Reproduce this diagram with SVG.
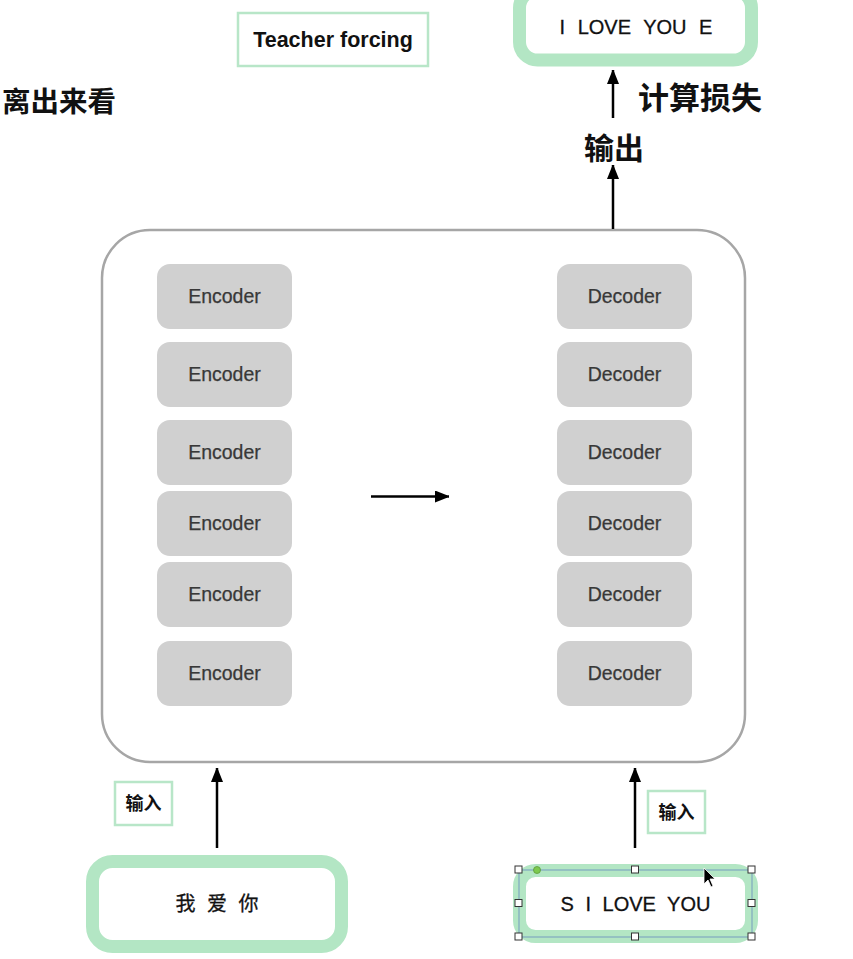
<svg xmlns="http://www.w3.org/2000/svg" width="853" height="959" viewBox="0 0 853 959">
<defs>
<style>
.blk{fill:#d0d0d0;}
.blkt{font-family:"Liberation Sans",Arial,sans-serif;font-size:19.5px;fill:#383838;text-anchor:middle;stroke:#383838;stroke-width:0.25;}
.io{fill:#fff;stroke:#b3e6c4;stroke-width:13;}
.iot{font-family:"Liberation Sans","Noto Sans CJK SC",sans-serif;font-size:20px;fill:#111;text-anchor:middle;stroke:#111;stroke-width:0.3;}
.lbl{fill:#fff;stroke:#b8e6c8;stroke-width:2.5;}
.cn{font-family:"Liberation Sans","Noto Sans CJK SC",sans-serif;font-weight:bold;fill:#111;}
.ln{stroke:#000;stroke-width:2.5;fill:none;}
.h{fill:#fff;stroke:#333;stroke-width:1;}
</style>
<marker id="ah" markerWidth="12" markerHeight="15" viewBox="0 0 12 15" refX="14" refY="6" orient="auto" markerUnits="userSpaceOnUse">
<path d="M0,0 L15,6 L0,12 z" fill="#000"/>
</marker>
</defs>
<rect width="853" height="959" fill="#fff"/>

<g id="side-text">
<text class="cn" x="2" y="112" font-size="28.5">离出来看</text>
</g>

<g id="teacher-forcing">
<rect class="lbl" x="238" y="13" width="190" height="53"/>
<text class="cn" x="333" y="47" font-size="21.5" text-anchor="middle">Teacher forcing</text>
</g>

<g id="target-output">
<rect class="io" x="519.5" y="-10" width="232" height="70" rx="18"/>
<text class="iot" x="636" y="34" word-spacing="7">I LOVE YOU E</text>
</g>

<g id="label-loss">
<text class="cn" x="638" y="109" font-size="31">计算损失</text>
</g>
<g id="label-output">
<text class="cn" x="614" y="159" font-size="30" text-anchor="middle">输出</text>
</g>

<g id="container">
<rect x="102" y="230" width="643" height="532" rx="48" fill="#fff" stroke="#a6a6a6" stroke-width="2.5"/>
</g>

<g id="encoders">
<g id="enc1"><rect class="blk" x="157" y="264" width="135" height="65" rx="13"/><text class="blkt" x="224.5" y="303">Encoder</text></g>
<g id="enc2"><rect class="blk" x="157" y="342" width="135" height="65" rx="13"/><text class="blkt" x="224.5" y="381">Encoder</text></g>
<g id="enc3"><rect class="blk" x="157" y="420" width="135" height="65" rx="13"/><text class="blkt" x="224.5" y="459">Encoder</text></g>
<g id="enc4"><rect class="blk" x="157" y="491" width="135" height="65" rx="13"/><text class="blkt" x="224.5" y="530">Encoder</text></g>
<g id="enc5"><rect class="blk" x="157" y="562" width="135" height="65" rx="13"/><text class="blkt" x="224.5" y="601">Encoder</text></g>
<g id="enc6"><rect class="blk" x="157" y="641" width="135" height="65" rx="13"/><text class="blkt" x="224.5" y="680">Encoder</text></g>
</g>

<g id="decoders">
<g id="dec1"><rect class="blk" x="557" y="264" width="135" height="65" rx="13"/><text class="blkt" x="624.5" y="303">Decoder</text></g>
<g id="dec2"><rect class="blk" x="557" y="342" width="135" height="65" rx="13"/><text class="blkt" x="624.5" y="381">Decoder</text></g>
<g id="dec3"><rect class="blk" x="557" y="420" width="135" height="65" rx="13"/><text class="blkt" x="624.5" y="459">Decoder</text></g>
<g id="dec4"><rect class="blk" x="557" y="491" width="135" height="65" rx="13"/><text class="blkt" x="624.5" y="530">Decoder</text></g>
<g id="dec5"><rect class="blk" x="557" y="562" width="135" height="65" rx="13"/><text class="blkt" x="624.5" y="601">Decoder</text></g>
<g id="dec6"><rect class="blk" x="557" y="641" width="135" height="65" rx="13"/><text class="blkt" x="624.5" y="680">Decoder</text></g>
</g>

<g id="label-input-left">
<rect class="lbl" x="115" y="782" width="57" height="43"/>
<text class="cn" x="143.5" y="810" font-size="18" text-anchor="middle">输入</text>
</g>
<g id="label-input-right">
<rect class="lbl" x="648" y="791" width="57" height="42"/>
<text class="cn" x="676.5" y="819" font-size="18" text-anchor="middle">输入</text>
</g>

<g id="source-input">
<rect class="io" x="92.5" y="861.5" width="249" height="85" rx="20"/>
<text class="iot" x="217" y="911" word-spacing="6">我 爱 你</text>
</g>

<g id="decoder-input">
<rect class="io" x="519.5" y="870.5" width="232" height="66" rx="16"/>
<text class="iot" x="635.5" y="911" font-size="21" word-spacing="6">S I LOVE YOU</text>
<rect x="519" y="870" width="233" height="67" fill="none" stroke="#7fa8c0" stroke-width="1.2"/>
<rect class="h" x="515" y="866" width="7" height="7"/>
<rect class="h" x="631.5" y="866" width="7" height="7"/>
<rect class="h" x="748" y="866" width="7" height="7"/>
<rect class="h" x="515" y="899.5" width="7" height="7"/>
<rect class="h" x="748" y="899.5" width="7" height="7"/>
<rect class="h" x="515" y="933" width="7" height="7"/>
<rect class="h" x="631.5" y="933" width="7" height="7"/>
<rect class="h" x="748" y="933" width="7" height="7"/>
<circle cx="537" cy="870" r="3.5" fill="#7cc94f" stroke="#5a9a3a" stroke-width="0.8"/>
<path d="M704,868 L704,884 L708,880 L711,887 L713,886 L710,879 L715,879 z" fill="#000" stroke="#fff" stroke-width="0.8"/>
</g>

<g id="connectors">
<line class="ln" x1="613" y1="229" x2="613" y2="165" marker-end="url(#ah)"/>
<line class="ln" x1="613" y1="118" x2="613" y2="70" marker-end="url(#ah)"/>
<line class="ln" x1="371" y1="496.5" x2="449" y2="496.5" marker-end="url(#ah)"/>
<line class="ln" x1="217" y1="848" x2="217" y2="768" marker-end="url(#ah)"/>
<line class="ln" x1="635" y1="848" x2="635" y2="768" marker-end="url(#ah)"/>
</g>
</svg>
